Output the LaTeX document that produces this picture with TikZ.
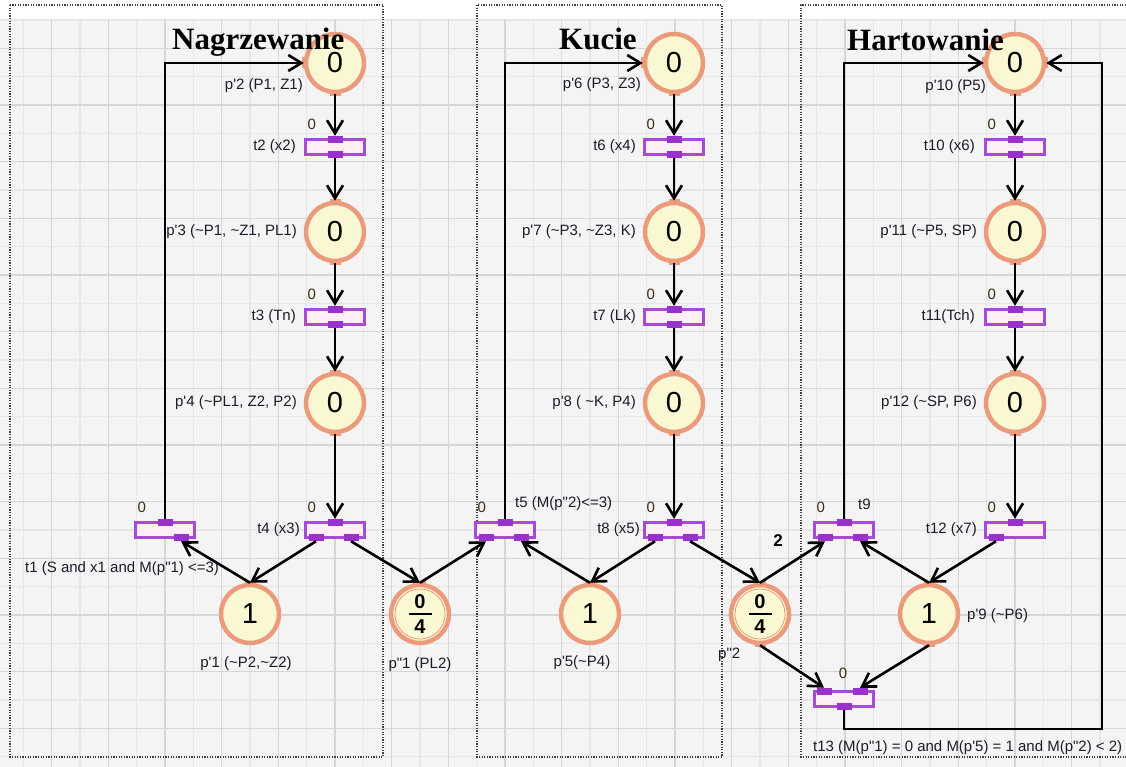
\documentclass[tikz,border=0pt]{standalone}
\usepackage{fontspec}
\newfontfamily\lab{Liberation Sans}
\newfontfamily\ttl{Liberation Serif}
\usetikzlibrary{arrows.meta}
\definecolor{bgc}{HTML}{F4F4F4}
\definecolor{gminor}{HTML}{E6E6E6}
\definecolor{gmajor}{HTML}{D6D6D6}
\definecolor{placefill}{HTML}{FAF8D2}
\definecolor{placeline}{HTML}{EB9A7C}
\definecolor{transfill}{HTML}{FDEFF4}
\definecolor{transline}{HTML}{A64BD6}
\definecolor{portc}{HTML}{9932CC}
\definecolor{lblc}{HTML}{1C1C2A}
\definecolor{zeroc}{HTML}{3D2B14}
\definecolor{boxc}{HTML}{404040}
\newcommand\tild{\textasciitilde}
\begin{document}
\begin{tikzpicture}[x=1pt,y=-1pt,
  pnplace/.style={circle, draw=placeline, line width=4.5pt, fill=placefill, minimum size=58pt, inner sep=0pt, font=\lab\fontsize{29}{29}\selectfont},
  pntrans/.style={rectangle, draw=transline, line width=2.8pt, fill=transfill, minimum width=59pt, minimum height=15.5pt, inner sep=0pt, outer sep=0pt},
  pnport/.style={rectangle, fill=portc, minimum width=15pt, minimum height=7pt, inner sep=0pt, outer sep=0pt},
  pntabh/.style={rectangle, fill=placeline, minimum width=11pt, minimum height=4pt, inner sep=0pt, outer sep=0pt},
  pntabv/.style={rectangle, fill=placeline, minimum width=4pt, minimum height=11pt, inner sep=0pt, outer sep=0pt},
  pnarrow/.style={draw=black, line width=2.6pt, -{Straight Barb[length=13pt,width=16pt,line width=2.6pt]}},
  pnlbl/.style={font=\lab\fontsize{15}{17}\selectfont, text=lblc, inner sep=0pt},
  pnzero/.style={font=\lab\fontsize{15}{17}\selectfont, text=zeroc, inner sep=0pt},
  pnfrac/.style={font=\lab\bfseries\fontsize{20}{20}\selectfont, inner sep=0pt},
  pntitle/.style={font=\ttl\bfseries\fontsize{31}{31}\selectfont, inner sep=0pt, anchor=base west},
  pnbox/.style={draw=boxc, line width=1.2pt, dash pattern=on 1.2pt off 1.4pt},
]
\useasboundingbox (0,0) rectangle (1126,767);
% background and grid
\fill[white] (0,0) rectangle (1126,767);
\fill[bgc] (0,19) rectangle (1126,767);
\foreach \j in {0,...,19} {\draw[gminor, line width=1.3pt] ({23.33+56.667*\j},19) -- ({23.33+56.667*\j},767);}
\foreach \j in {0,...,13} {\draw[gminor, line width=1.3pt] (0,{20+56.667*\j}) -- (1126,{20+56.667*\j});}
\foreach \j in {1,...,20} {\draw[gmajor, line width=1.3pt] ({-5+56.667*\j},19) -- ({-5+56.667*\j},767);}
\foreach \j in {0,...,12} {\draw[gmajor, line width=1.3pt] (0,{48.33+56.667*\j}) -- (1126,{48.33+56.667*\j});}
% dotted boxes
\draw[pnbox] (10,5) rectangle (383,757);
\draw[pnbox] (477,5) rectangle (722,757);
\draw[pnbox] (1126,5) -- (801,5) -- (801,757) -- (1126,757);
% places
\node[pnplace] (p2) at (335,63) {0};
\node[pnplace] (p3) at (335,232) {0};
\node[pnplace] (p4) at (335,403) {0};
\node[pnplace] (p6) at (674,63) {0};
\node[pnplace] (p7) at (674,232) {0};
\node[pnplace] (p8) at (674,403) {0};
\node[pnplace] (p10) at (1015,63) {0};
\node[pnplace] (p11) at (1015,232) {0};
\node[pnplace] (p12) at (1015,403) {0};
\node[pnplace] (p1) at (250,614) {1};
\node[pnplace] (pp1) at (420,614) {};
\node[pnplace] (p5) at (590,614) {1};
\node[pnplace] (pp2) at (760,614) {};
\node[pnplace] (p9) at (929,614) {1};
\foreach \q in {pp1,pp2}{
  \draw[placeline, line width=0.8pt] (\q.center) circle[radius=25pt];
  \node[pnfrac] at ([yshift=12pt]\q.center) {0};
  \draw[black, line width=2pt] ([xshift=-11.5pt]\q.center) -- ([xshift=11.5pt]\q.center);
  \node[pnfrac] at ([yshift=-13pt]\q.center) {4};
}
% transitions
\node[pntrans] (t2) at (335,147) {};
\node[pntrans] (t3) at (335,317) {};
\node[pntrans] (t4) at (335,530) {};
\node[pntrans] (t1) at (165,530) {};
\node[pntrans] (t6) at (674,147) {};
\node[pntrans] (t7) at (674,317) {};
\node[pntrans] (t8) at (674,530) {};
\node[pntrans] (t5) at (505,530) {};
\node[pntrans] (t10) at (1015,147) {};
\node[pntrans] (t11) at (1015,317) {};
\node[pntrans] (t12) at (1015,530) {};
\node[pntrans] (t9) at (844,530) {};
\node[pntrans] (t13) at (844,699) {};
% ports
\foreach \t in {t1,t2,t3,t4,t5,t6,t7,t8,t9,t10,t11,t12}{\node[pnport] (\t i) at (\t.north) {};}
\foreach \t in {t2,t3,t6,t7,t10,t11}{\node[pnport] (\t o) at (\t.south) {};}
\foreach \t in {t4,t5,t8,t9,t12}{\node[pnport] (\t l) at ([xshift=-19pt]\t.south) {};}
\foreach \t in {t1,t4,t5,t8,t9}{\node[pnport] (\t r) at ([xshift=16pt]\t.south) {};}
\node[pnport] (t13l) at ([xshift=-20pt]t13.north) {};
\node[pnport] (t13r) at ([xshift=16pt]t13.north) {};
\node[pnport] (t13o) at (t13.south) {};
% place tabs
\foreach \q in {p2,p3,p4,p6,p7,p8,p10,p11,p12,pp2,p9}{\node[pntabh] at (\q.south) {};}
\foreach \q in {p3,p4,p7,p8,p11,p12,p1,pp1,p5,pp2,p9}{\node[pntabh] at (\q.north) {};}
\foreach \q in {p2,p6,p10}{\node[pntabv] at (\q.west) {};}
\node[pntabv] at (p10.east) {};
% arcs column 1
\draw[pnarrow] (p2) -- (t2i);
\draw[pnarrow] (t2o) -- (p3);
\draw[pnarrow] (p3) -- (t3i);
\draw[pnarrow] (t3o) -- (p4);
\draw[pnarrow] (p4) -- (t4i);
\draw[pnarrow] (t4l.south) -- (p1.north);
\draw[pnarrow] (t4r.south) -- (pp1.north);
\draw[pnarrow] (p1.north) -- (t1r.south);
\draw[pnarrow] (t1i.north) |- (p2.west);
% column 2
\draw[pnarrow] (pp1.north) -- (t5l.south);
\draw[pnarrow] (p5.north) -- (t5r.south);
\draw[pnarrow] (t5i.north) |- (p6.west);
\draw[pnarrow] (p6) -- (t6i);
\draw[pnarrow] (t6o) -- (p7);
\draw[pnarrow] (p7) -- (t7i);
\draw[pnarrow] (t7o) -- (p8);
\draw[pnarrow] (p8) -- (t8i);
\draw[pnarrow] (t8l.south) -- (p5.north);
\draw[pnarrow] (t8r.south) -- (pp2.north);
% column 3
\draw[pnarrow] (pp2.north) -- (t9l.south);
\draw[pnarrow] (p9.north) -- (t9r.south);
\draw[pnarrow] (t9i.north) |- (p10.west);
\draw[pnarrow] (p10) -- (t10i);
\draw[pnarrow] (t10o) -- (p11);
\draw[pnarrow] (p11) -- (t11i);
\draw[pnarrow] (t11o) -- (p12);
\draw[pnarrow] (p12) -- (t12i);
\draw[pnarrow] (t12l.south) -- (p9.north);
\draw[pnarrow] (pp2.south) -- (t13l.north);
\draw[pnarrow] (p9.south) -- (t13r.north);
\coordinate (loop) at (1102,729);
\draw[pnarrow] (t13o.south) |- (loop) |- (p10.east);
% zero labels
\foreach \t in {t1,t2,t3,t4,t5,t6,t7,t8,t9,t10,t11,t12}{\node[pnzero, anchor=west] at ([xshift=2pt,yshift=23pt]\t.west) {0};}
\node[pnzero] (z13) at (843,673) {0};
% labels column 1
\node[pnlbl, anchor=east] (lp2) at (303,86) {p'2 (P1, Z1)};
\node[pnlbl, anchor=east] (lt2) at (296,147) {t2 (x2)};
\node[pnlbl, anchor=east] (lp3) at (297,232) {p'3 (\tild P1, \tild Z1, PL1)};
\node[pnlbl, anchor=east] (lt3) at (296,317) {t3 (Tn)};
\node[pnlbl, anchor=east] (lp4) at (297,403) {p'4 (\tild PL1, Z2, P2)};
\node[pnlbl, anchor=east] (lt4) at (300,530) {t4 (x3)};
\node[pnlbl, anchor=west] (lt1) at (25,569) {t1 (S and x1 and M(p"1) <=3)};
\node[pnlbl] (lp1) at (246,664) {p'1 (\tild P2,\tild Z2)};
\node[pnlbl] (lpp1) at (420,665) {p"1 (PL2)};
% labels column 2
\node[pnlbl, anchor=west] (lt5) at (515,504) {t5 (M(p"2)<=3)};
\node[pnlbl, anchor=east] (lp6) at (641,85) {p'6 (P3, Z3)};
\node[pnlbl, anchor=east] (lt6) at (636,147) {t6 (x4)};
\node[pnlbl, anchor=east] (lp7) at (636,232) {p'7 (\tild P3, \tild Z3, K)};
\node[pnlbl, anchor=east] (lt7) at (636,317) {t7 (Lk)};
\node[pnlbl, anchor=east] (lp8) at (636,403) {p'8 ( \tild K, P4)};
\node[pnlbl, anchor=east] (lt8) at (640,530) {t8 (x5)};
\node[pnlbl] (lp5) at (582,663) {p'5(\tild P4)};
\node[pnlbl, anchor=west] (lpp2) at (718,655) {p"2};
\node[font=\lab\bfseries\fontsize{17}{19}\selectfont, inner sep=0pt] (w2) at (778,541) {2};
% labels column 3
\node[pnlbl, anchor=west] (lt9) at (858,504) {t9};
\node[pnlbl, anchor=east] (lp10) at (986,87) {p'10 (P5)};
\node[pnlbl, anchor=east] (lt10) at (975,147) {t10 (x6)};
\node[pnlbl, anchor=east] (lp11) at (977,232) {p'11 (\tild P5, SP)};
\node[pnlbl, anchor=east] (lt11) at (975,317) {t11(Tch)};
\node[pnlbl, anchor=east] (lp12) at (977,403) {p'12 (\tild SP, P6)};
\node[pnlbl, anchor=east] (lt12) at (977,530) {t12 (x7)};
\node[pnlbl, anchor=west] (lp9) at (967,616) {p'9 (\tild P6)};
\node[pnlbl, anchor=west] (lt13) at (813,748) {t13 (M(p"1) = 0 and M(p'5) = 1 and M(p"2) < 2)};
% titles (on top)
\node[pntitle] (ti1) at (172,50) {Nagrzewanie};
\node[pntitle] (ti2) at (559,50) {Kucie};
\node[pntitle] (ti3) at (847,51) {Hartowanie};
\end{tikzpicture}
\end{document}
